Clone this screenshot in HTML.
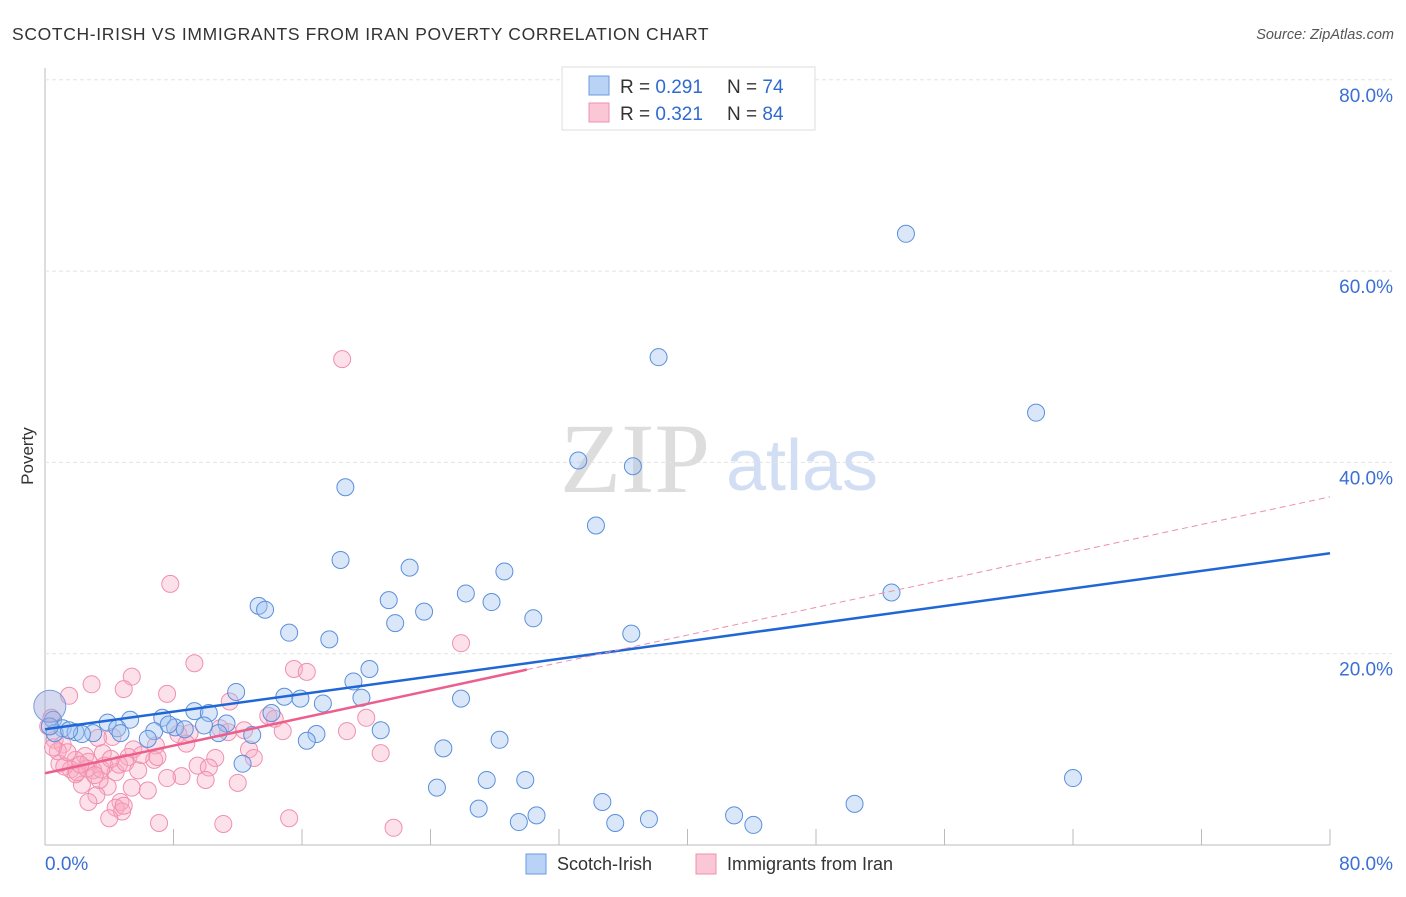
<!DOCTYPE html>
<html><head><meta charset="utf-8"><style>
body{margin:0;background:#fff;font-family:"Liberation Sans",sans-serif}
svg text{font-family:"Liberation Sans",sans-serif}
</style></head><body>
<svg id="chart" width="1406" height="892">
<text x="12" y="40" font-size="17.5" letter-spacing="0.65" fill="#333">SCOTCH-IRISH VS IMMIGRANTS FROM IRAN POVERTY CORRELATION CHART</text>
<text x="1394" y="39" font-size="14.5" fill="#555" font-style="italic" text-anchor="end">Source: ZipAtlas.com</text>
<text x="33" y="456" font-size="17" fill="#333" text-anchor="middle" transform="rotate(-90 33 456)">Poverty</text>
<g><text x="635" y="492" font-size="100" fill="#ddd" font-family="Liberation Serif" text-anchor="middle" style="font-family:'Liberation Serif',serif">ZIP</text><text x="802" y="490" font-size="72" fill="#d2def3" text-anchor="middle">atlas</text></g>
<g id="grid"></g><g id="marks"></g><g id="lines"></g>
<g>
<rect x="562" y="67" width="253" height="63" fill="#fff" stroke="#ddd"/>
<rect x="589" y="76" width="20" height="19" fill="#b8d3f5" stroke="#6a9be0"/>
<rect x="589" y="103" width="20" height="19" fill="#fbc6d6" stroke="#ef93b0"/>
<text x="620" y="93" font-size="19" fill="#333">R = <tspan fill="#2f6ad0">0.291</tspan></text>
<text x="727" y="93" font-size="19" fill="#333">N = <tspan fill="#2f6ad0">74</tspan></text>
<text x="620" y="120" font-size="19" fill="#333">R = <tspan fill="#2f6ad0">0.321</tspan></text>
<text x="727" y="120" font-size="19" fill="#333">N = <tspan fill="#2f6ad0">84</tspan></text>
</g>
<g>
<rect x="526" y="854" width="20" height="20" fill="#b8d3f5" stroke="#6a9be0"/>
<text x="557" y="870" font-size="18" fill="#333">Scotch-Irish</text>
<rect x="696" y="854" width="20" height="20" fill="#fbc6d6" stroke="#ef93b0"/>
<text x="727" y="870" font-size="18" fill="#333">Immigrants from Iran</text>
</g>
</svg>
<script>
const yTicks=[20,40,60,80];
const xTickLabels=["0.0%","80.0%"];
const blueX=[53.6,38.2,61.7,33.2,36.6,18.7,34.3,18.4,22.7,28.6,26.2,52.7,21.4,27.8,13.3,13.7,23.6,30.4,21.8,15.2,17.7,36.5,20.2,19.2,11.9,14.9,15.9,19.7,17.3,25.9,9.3,10.2,14.1,5.3,7.3,11.3,8.1,3.9,8.7,0.5,1.1,1.9,3.0,4.5,6.8,10.8,12.9,20.9,16.9,4.7,6.4,16.3,24.8,28.3,12.3,27.5,29.9,64.0,24.4,34.7,50.4,27.0,30.6,29.5,35.5,37.6,42.9,44.1,0.6,2.3,0.3,1.5,7.7,9.9];
const blueY=[63.9,51.0,45.2,40.2,39.6,37.4,33.4,29.8,29.0,28.6,26.3,26.4,25.6,25.4,25.0,24.6,24.4,23.7,23.2,22.2,21.5,22.1,18.4,17.1,16.0,15.5,15.3,15.4,14.8,15.3,14.0,13.8,13.8,13.1,13.3,12.7,12.3,12.8,12.1,13.1,12.2,11.8,11.7,12.2,11.9,11.7,11.5,12.0,11.6,11.7,11.1,10.9,10.1,11.0,8.5,6.8,6.8,7.0,6.0,4.5,4.3,3.8,3.1,2.4,2.3,2.7,3.1,2.1,11.7,11.6,12.4,12.0,12.6,12.5];
const pinkX=[18.5,7.8,25.9,9.3,15.5,16.3,5.4,2.9,4.9,1.5,7.6,11.5,13.9,20.0,0.4,11.4,14.8,18.8,8.3,4.2,3.3,0.6,1.1,6.9,5.5,12.7,20.9,3.6,2.5,5.2,6.8,10.6,13.0,1.9,2.7,0.9,3.7,9.5,10.2,1.6,3.0,4.4,8.5,7.6,10.0,12.0,2.3,3.9,5.4,6.4,3.2,2.7,4.7,4.4,4.8,4.9,4.0,7.1,11.1,15.2,21.7,0.2,1.9,3.4,0.8,1.2,2.0,2.6,3.5,4.6,5.0,6.0,9.0,10.9,0.5,1.4,2.2,3.1,4.1,5.8,7.0,8.8,12.4,14.3];
const pinkY=[50.8,27.3,21.1,19.0,18.4,18.1,17.6,16.8,16.3,15.6,15.8,15.0,13.5,13.3,13.3,11.8,11.9,11.9,11.6,11.3,11.2,11.0,10.5,10.4,10.0,10.0,9.6,9.6,9.3,9.2,8.9,9.1,9.1,8.9,8.7,8.5,8.3,8.3,8.1,7.9,7.8,7.6,7.2,7.0,6.8,6.5,6.3,6.1,6.0,5.7,5.2,4.5,4.5,3.9,3.5,4.1,2.8,2.3,2.2,2.8,1.8,12.4,7.4,6.8,9.8,8.2,7.6,8.0,7.9,8.4,8.6,9.4,11.7,12.2,10.2,9.7,8.4,7.3,9.0,7.8,9.2,10.6,12.0,13.2];
const blueTrend=[12.1,30.5];
const pinkTrend=[7.5,36.4];
const x=v=>45+v/80*1285, y=v=>845-v/20*191.3;
const NS="http://www.w3.org/2000/svg";
function mk(p,t,a){const e=document.createElementNS(NS,t);for(const k in a)e.setAttribute(k,a[k]);p.appendChild(e);return e;}
const g=document.getElementById('grid'),m=document.getElementById('marks'),l=document.getElementById('lines');
const ax=mk(g,'line',{x1:45,y1:68,x2:45,y2:845,stroke:'#bbb'});


const bx=mk(g,'line',{x1:45,y1:845,x2:1330,y2:845,stroke:'#bbb'});


for(let i=1;i<=10;i++){const t=mk(g,'line',{x1:x(i*8),x2:x(i*8),y1:829,y2:845,stroke:'#bbb'});

}
yTicks.forEach(v=>{const gl=mk(g,'line',{x1:45,x2:1392,y1:y(v),y2:y(v),stroke:'#e3e3e3','stroke-dasharray':'4,3'});


const tx=mk(g,'text',{x:1393,y:y(v)+22,'font-size':19,fill:'#3b6fd4','text-anchor':'end'});tx.textContent=v.toFixed(1)+'%';

});
xTickLabels.forEach((s,i)=>{const tx=mk(g,'text',{x:i?1393:45,y:870,'font-size':19,fill:'#3b6fd4','text-anchor':i?'end':'start'});tx.textContent=s;

});
pinkX.forEach((v,i)=>{const c=mk(m,'circle',{cx:x(v),cy:y(pinkY[i]),r:8.5,fill:'rgba(248,170,195,0.35)',stroke:'#f08fae','stroke-width':1});

});
blueX.forEach((v,i)=>{const c=mk(m,'circle',{cx:x(v),cy:y(blueY[i]),r:8.5,fill:'rgba(160,195,240,0.4)',stroke:'#5b8fdc','stroke-width':1});

});
const big=mk(m,'circle',{cx:x(0.3),cy:y(14.5),r:16,fill:'rgba(160,170,220,0.45)',stroke:'#7a9be0'});


const bl=mk(l,'line',{x1:x(0),y1:y(blueTrend[0]),x2:x(80),y2:y(blueTrend[1]),stroke:'#1f66d6','stroke-width':2.5});


const pv=v=>pinkTrend[0]+(pinkTrend[1]-pinkTrend[0])*v/80;
const pl=mk(l,'line',{x1:x(0),y1:y(pv(0)),x2:x(30),y2:y(pv(30)),stroke:'#ec5f8d','stroke-width':2.5});


const pd=mk(l,'line',{x1:x(30),y1:y(pv(30)),x2:x(80),y2:y(pv(80)),stroke:'#ec8fae','stroke-width':1,'stroke-dasharray':'6,4'});


</script>
</body></html>
